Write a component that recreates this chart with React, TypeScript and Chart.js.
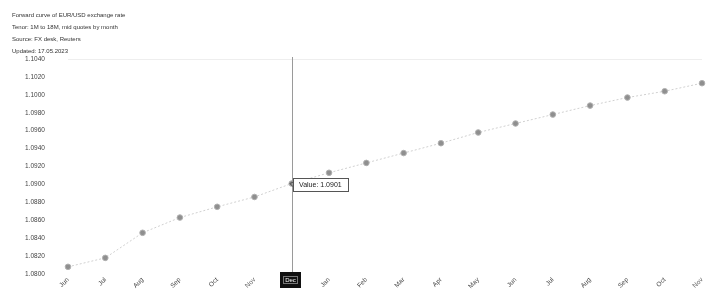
import React, { useEffect, useRef } from "react";
import { Chart, registerables } from "chart.js";

Chart.register(...registerables);

const headerLines = [
  "Forward curve of EUR/USD exchange rate",
  "Tenor: 1M to 18M, mid quotes by month",
  "Source: FX desk, Reuters",
  "Updated: 17.05.2023",
];

const categories = [
  "Jun", "Jul", "Aug", "Sep", "Oct", "Nov", "Dec", "Jan", "Feb",
  "Mar", "Apr", "May", "Jun", "Jul", "Aug", "Sep", "Oct", "Nov",
];

const values = [
  1.0808, 1.0818, 1.0846, 1.0863, 1.0875, 1.0886, 1.0901, 1.0913, 1.0924,
  1.0935, 1.0946, 1.0958, 1.0968, 1.0978, 1.0988, 1.0997, 1.1004, 1.1013,
];

const yMin = 1.08;
const yMax = 1.104;
const yStep = 0.002;
const crosshairIndex = 6;

const FONT = "'Liberation Sans', Arial, sans-serif";

export default function App() {
  const ref = useRef<HTMLCanvasElement | null>(null);

  useEffect(() => {
    document.body.style.margin = "0";
    const canvas = ref.current;
    if (!canvas) return;

    const crosshair = {
      id: "crosshair",
      afterDatasetsDraw(chart: any) {
        const ctx = chart.ctx;
        const meta = chart.getDatasetMeta(0);
        const pt = meta.data[crosshairIndex];
        if (!pt) return;
        const area = chart.chartArea;
        const x = Math.round(pt.x) + 0.5;
        ctx.save();
        ctx.strokeStyle = "#9a9a9a";
        ctx.lineWidth = 1;
        ctx.beginPath();
        ctx.moveTo(x, area.top - 2);
        ctx.lineTo(x, area.bottom);
        ctx.stroke();

        // tooltip box
        const label = "Value: " + values[crosshairIndex].toFixed(4);
        ctx.font = "7px " + FONT;
        const tw = ctx.measureText(label).width;
        const bx = Math.round(pt.x) + 1;
        const bh = 13;
        const by = Math.round(pt.y) - 6;
        const bw = Math.max(tw + 10, 55);
        ctx.fillStyle = "#ffffff";
        ctx.fillRect(bx, by, bw, bh);
        ctx.strokeStyle = "#555555";
        ctx.strokeRect(bx + 0.5, by + 0.5, bw, bh);
        ctx.beginPath();
        ctx.moveTo(bx + 0.5, by + 4);
        ctx.lineTo(pt.x - 2, pt.y);
        ctx.lineTo(bx + 0.5, by + 9);
        ctx.stroke();
        ctx.fillStyle = "#222222";
        ctx.textBaseline = "middle";
        ctx.textAlign = "left";
        ctx.fillText(label, bx + 6, by + bh / 2 + 1);

        // x label highlight
        const lx = Math.round(pt.x) - 12;
        const ly = area.bottom - 2;
        ctx.fillStyle = "#111111";
        ctx.fillRect(lx, ly, 21, 16);
        ctx.strokeStyle = "#777";
        ctx.strokeRect(lx + 3.5, ly + 4.5, 14, 7);
        ctx.fillStyle = "#ffffff";
        ctx.font = "6px " + FONT;
        ctx.textAlign = "center";
        ctx.fillText(categories[crosshairIndex], lx + 10.5, ly + 8.5);
        ctx.restore();
      },
    };

    const chart = new Chart(canvas, {
      type: "line",
      data: {
        labels: categories,
        datasets: [
          {
            data: values,
            borderColor: "#d0d0d0",
            borderWidth: 1,
            borderDash: [2, 2],
            pointRadius: 2.8,
            pointBackgroundColor: "#8f8f8f",
            pointBorderColor: "#b0b0b0",
            pointBorderWidth: 1,
            tension: 0,
          },
        ],
      },
      options: {
        animation: false,
        responsive: false,
        events: [],
        layout: { padding: { top: 59, right: 17, left: 25, bottom: 0 } },
        plugins: {
          legend: { display: false },
          tooltip: { enabled: false },
        },
        scales: {
          x: {
            offset: false,
            grid: { display: false, drawTicks: false },
            border: { display: false },
            ticks: {
              color: "#444",
              font: { size: 6.5, family: FONT },
              minRotation: 45,
              maxRotation: 45,
              autoSkip: false,
              padding: 2,
            },
            afterFit: (s: any) => {
              s.height = 16;
            },
          },
          y: {
            min: yMin,
            max: yMax,
            grid: {
              color: (c: any) => (c.index === Math.round((yMax - yMin) / yStep) ? "#eeeeee" : "rgba(0,0,0,0)"),
              drawTicks: false,
            },
            border: { display: false },
            ticks: {
              stepSize: yStep,
              color: "#444",
              padding: 2,
              crossAlign: "far",
              font: { size: 6.5, family: FONT },
              callback: (v: any) => Number(v).toFixed(4),
            },
            afterFit: (s: any) => {
              s.width = 43;
            },
          },
        },
      },
      plugins: [crosshair],
    });
    return () => chart.destroy();
  }, []);

  return (
    <div style={{ position: "absolute", left: 0, top: 0, width: 719, height: 290, background: "#fff" }}>
      <canvas ref={ref} width={719} height={290} style={{ position: "absolute", left: 0, top: 0 }} />
      <div
        style={{
          position: "absolute",
          left: 12,
          top: 9,
          fontFamily: FONT,
          fontSize: 6,
          lineHeight: "12px",
          color: "#333",
        }}
      >
        {headerLines.map((l, i) => (
          <div key={i}>{l}</div>
        ))}
      </div>
    </div>
  );
}
